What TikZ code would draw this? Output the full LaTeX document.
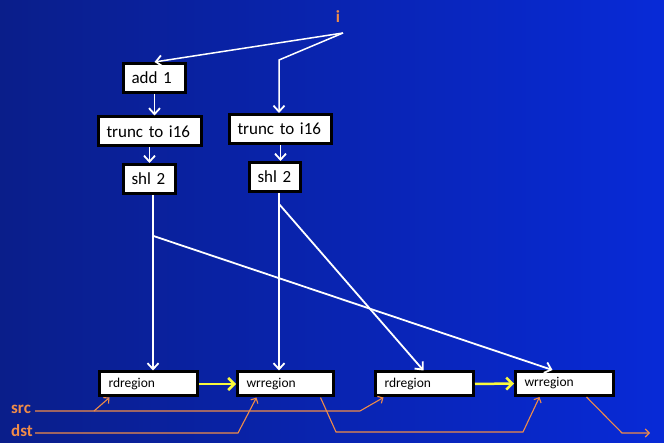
\documentclass[tikz,border=0pt]{standalone}
\usepackage{fontspec}
\setmainfont{Carlito}
\usetikzlibrary{arrows.meta}
\definecolor{bgL}{RGB}{10,30,138}
\definecolor{bgR}{RGB}{8,42,215}
\definecolor{orng}{RGB}{240,140,72}
\definecolor{ylw}{RGB}{250,250,60}
\begin{document}
\begin{tikzpicture}[x=1pt,y=-1pt,
  opbox/.style={draw=black,line width=3pt,fill=white,inner xsep=8pt,inner ysep=0pt,
    minimum height=29pt,font=\fontsize{17}{19}\selectfont,anchor=center,align=left},
  regbox/.style={draw=black,line width=3pt,fill=white,inner xsep=9pt,inner ysep=0pt,
    minimum height=24pt,font=\fontsize{13.5}{15}\selectfont,align=left},
  wflow/.style={draw=white,line width=1.8pt,-{Straight Barb[length=6pt,width=11pt,line width=1.8pt]}},
  yflow/.style={draw=ylw,line width=2.5pt,-{Straight Barb[length=6pt,width=12pt,line width=2.5pt]}},
  oflow/.style={draw=orng,line width=1.1pt,-{Straight Barb[length=4pt,width=8pt,line width=1.1pt]}},
  olabel/.style={text=orng,font=\fontsize{17}{19}\selectfont\bfseries,inner sep=0pt}]
\shade[left color=bgL,right color=bgR] (0,0) rectangle (664,443);
\useasboundingbox (0,0) rectangle (664,443);

% top boxes
\node[opbox,text width=46pt] (add1) at (154.5,78) {add 1};
\node[opbox,text width=87pt] (truncL) at (150,131.5) {trunc to i16};
\node[opbox,text width=36pt] (shlL) at (149.5,179) {shl 2};
\node[opbox,text width=86pt] (truncR) at (280.5,129) {trunc to i16};
\node[opbox,text width=35pt] (shlR) at (275,177) {shl 2};

% bottom boxes
\node[regbox,text width=80pt] (rd1) at (148.5,384) {rdregion};
\node[regbox,text width=78pt] (wr1) at (285.5,384) {wrregion};
\node[regbox,text width=80pt] (rd2) at (424.5,384) {rdregion};
\node[regbox,text width=80pt] (wr2) at (564.5,383.5) {wrregion};

% labels
\node[olabel] (ilab) at (338,17) {i};
\node[olabel,anchor=west] (src) at (11,409) {src};
\node[olabel,anchor=west] (dst) at (11,431) {dst};

% i fan-out
\coordinate (isrc) at (343,33);
\coordinate (ibend) at (279,60);
\draw[wflow,line width=1.5pt] (isrc) -- (add1.north);
\draw[wflow,line width=1.5pt] (isrc) -- (ibend) -- (ibend |- truncR.north);

% vertical chains
\draw[wflow] (add1.south) -- (add1.south |- truncL.north);
\draw[wflow] (shlL.north |- truncL.south) -- (shlL.north);
\draw[wflow] (truncR.south) -- (truncR.south |- shlR.north);

% shl outputs
\draw[wflow] ([xshift=3.5pt]shlL.south) -- ([xshift=3.5pt]shlL.south |- rd1.north);
\draw[wflow] ([xshift=4pt]shlR.south) -- ([xshift=4pt]shlR.south |- wr1.north);
\coordinate (jL) at (153.5,236);
\coordinate (jR) at (279,204);
\draw[wflow] (jL) -- ([xshift=-12pt]wr2.north);
\draw[wflow] (jR) -- ([xshift=-1pt]rd2.north);

% yellow
\draw[yflow] (rd1.east) -- (wr1.west);
\draw[yflow] (rd2.east) -- (wr2.west);

% orange
\coordinate (s0) at (35,411);
\coordinate (s1) at (360,411);
\coordinate (sb) at (94,411);
\draw[oflow] (s0) -- (s1) -- ([xshift=-41pt]rd2.south);
\draw[oflow] (sb) -- ([xshift=-39pt]rd1.south);
\coordinate (d0) at (35,433);
\coordinate (d1) at (238,433);
\draw[oflow] (d0) -- (d1) -- ([xshift=-29pt]wr1.south);
\coordinate (w1) at (336,432);
\coordinate (w2) at (523,432);
\draw[oflow] ([xshift=35pt]wr1.south) -- (w1) -- (w2) -- ([xshift=-25pt]wr2.south);
\coordinate (o1) at (622,433);
\coordinate (o2) at (650,433);
\draw[oflow] ([xshift=22pt]wr2.south) -- (o1) -- (o2);
\end{tikzpicture}
\end{document}
